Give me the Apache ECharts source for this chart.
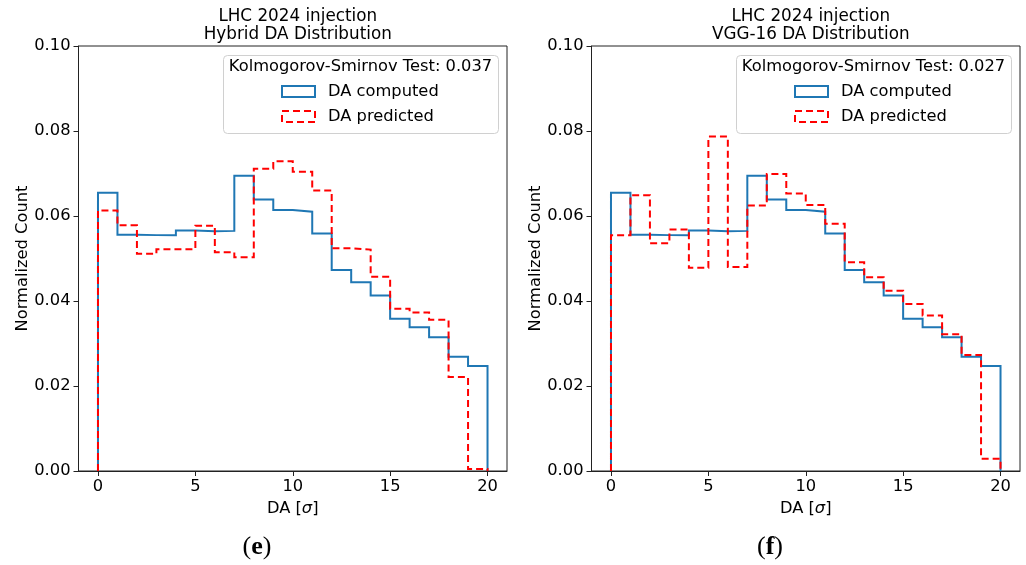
<!DOCTYPE html>
<html>
<head>
<meta charset="utf-8">
<script src="https://cdn.jsdelivr.net/npm/echarts@6/dist/echarts.min.js"></script>
<style>
  html, body { margin: 0; padding: 0; background: #fff; }
  #chart { width: 1026px; height: 565px; }
</style>
</head>
<body>
<div id="chart"></div>
<script>
// Histogram bin edges for DA [sigma]: 20 bins of width 1 from 0 to 20
const binEdges = [0, 1, 2, 3, 4, 5, 6, 7, 8, 9, 10, 11, 12, 13, 14, 15, 16, 17, 18, 19, 20];

// Normalized counts per bin
const daComputed = [0.0655, 0.0556, 0.0555, 0.0555, 0.0566, 0.0564, 0.0565, 0.0695, 0.0639, 0.0614,
                    0.0610, 0.0559, 0.0473, 0.0444, 0.0413, 0.0358, 0.0338, 0.0315, 0.0269, 0.0247];
const hybridPredicted = [0.0613, 0.0578, 0.0511, 0.0522, 0.0522, 0.0577, 0.0515, 0.0503, 0.0711, 0.0729,
                         0.0704, 0.0660, 0.0524, 0.0521, 0.0457, 0.0382, 0.0373, 0.0356, 0.0221, 0.0005];
const vggPredicted = [0.0555, 0.0649, 0.0536, 0.0568, 0.0478, 0.0787, 0.0480, 0.0625, 0.0699, 0.0653,
                      0.0626, 0.0582, 0.0491, 0.0456, 0.0424, 0.0393, 0.0366, 0.0322, 0.0273, 0.0029];

const xTicks = [0, 5, 10, 15, 20];
const yTicks = [0.00, 0.02, 0.04, 0.06, 0.08, 0.10];

const panelTitles = ['LHC 2024 injection\nHybrid DA Distribution', 'LHC 2024 injection\nVGG-16 DA Distribution'];
const ksScores = ['0.037', '0.027'];
const panelTags = ['e', 'f'];
const legendNames = ['DA computed', 'DA predicted'];

const FONT = 'DejaVu Sans';
const FS = 16.3;
const BLUE = '#1f77b4';
const RED = '#ff0000';

// Step outline of a histogram: rises from 0 at the first edge, falls back to 0 at the last
function stepData(values) {
  const pts = [[binEdges[0], 0]];
  values.forEach((v, i) => pts.push([binEdges[i], v]));
  const last = binEdges[binEdges.length - 1];
  pts.push([last, values[values.length - 1]]);
  pts.push([last, 0]);
  return pts;
}

const grids = [
  { left: 78.5, top: 46, width: 428.5, height: 425 },
  { left: 591.5, top: 46, width: 428.5, height: 425 }
];
// Horizontal centre of each sub-figure (used for the (e)/(f) tags)
const panelCentres = [257, 770];

const axisColor = '#222';

function makeX(i) {
  return {
    type: 'value', gridIndex: i, min: -1, max: 21,
    name: '{n|DA [}{s|σ}{n|]}', nameLocation: 'middle', nameGap: 30,
    nameTextStyle: { rich: {
      n: { fontFamily: FONT, fontSize: FS, color: '#000' },
      s: { fontFamily: FONT, fontSize: FS, color: '#000', fontStyle: 'italic' }
    } },
    axisLine: { show: true, onZero: false, lineStyle: { color: axisColor, width: 1 } },
    axisTick: { show: true, inside: false, length: 5, customValues: xTicks, lineStyle: { color: axisColor } },
    axisLabel: { customValues: xTicks, margin: 8, fontFamily: FONT, fontSize: FS, color: '#000' },
    splitLine: { show: false }
  };
}

function makeY(i) {
  return {
    type: 'value', gridIndex: i, min: yTicks[0], max: yTicks[yTicks.length - 1], interval: 0.02,
    name: 'Normalized Count', nameLocation: 'middle', nameGap: 48,
    nameTextStyle: { fontFamily: FONT, fontSize: FS, color: '#000' },
    axisLine: { show: true, onZero: false, lineStyle: { color: axisColor, width: 1 } },
    axisTick: { show: true, inside: false, length: 5, lineStyle: { color: axisColor } },
    axisLabel: { margin: 8, fontFamily: FONT, fontSize: FS, color: '#000',
      formatter: v => v.toFixed(2) },
    splitLine: { show: false }
  };
}

function stepSeries(values, i, color, dashed, name) {
  return {
    type: 'line', name: name, xAxisIndex: i, yAxisIndex: i,
    data: stepData(values), step: 'end', symbol: 'none', silent: true,
    lineStyle: { color: color, width: 2, type: dashed ? [7, 4] : 'solid', cap: 'butt', join: 'miter' },
    animation: false
  };
}

// Legend box with title and two outline patches
function legendGraphics(i) {
  const g = grids[i];
  const boxLeft = g.left + 144.5;
  const boxTop = 55;
  const boxW = 275, boxH = 78;
  const cx = boxLeft + boxW / 2;
  const font = FS + 'px "' + FONT + '"';
  return [
    { type: 'rect', left: boxLeft, top: boxTop, z: 10,
      shape: { width: boxW, height: boxH, r: 4 },
      style: { fill: 'rgba(255,255,255,0.8)', stroke: '#d0d0d0', lineWidth: 1 } },
    { type: 'text', x: cx, y: boxTop + 12, z: 11,
      style: { text: 'Kolmogorov-Smirnov Test: ' + ksScores[i], fill: '#000',
        font: font, align: 'center', verticalAlign: 'middle' } },
    { type: 'rect', x: boxLeft + 59, y: boxTop + 31, z: 11,
      shape: { width: 33, height: 11 },
      style: { fill: 'none', stroke: BLUE, lineWidth: 2 } },
    { type: 'text', x: boxLeft + 105, y: boxTop + 37, z: 11,
      style: { text: legendNames[0], fill: '#000',
        font: font, align: 'left', verticalAlign: 'middle' } },
    { type: 'rect', x: boxLeft + 59, y: boxTop + 56, z: 11,
      shape: { width: 33, height: 11 },
      style: { fill: 'none', stroke: RED, lineWidth: 2, lineDash: [7, 4] } },
    { type: 'text', x: boxLeft + 105, y: boxTop + 62, z: 11,
      style: { text: legendNames[1], fill: '#000',
        font: font, align: 'left', verticalAlign: 'middle' } }
  ];
}

function tagGraphic(i) {
  return {
    type: 'text', x: panelCentres[i], y: 547, z: 11,
    style: {
      text: '{p|(}{b|' + panelTags[i] + '}{p|)}',
      align: 'center', verticalAlign: 'middle',
      rich: {
        p: { fontFamily: 'Liberation Serif', fontSize: 26, color: '#000' },
        b: { fontFamily: 'Liberation Serif', fontSize: 26, fontWeight: 'bold', color: '#000' }
      }
    }
  };
}

const chart = echarts.init(document.getElementById('chart'), null, { renderer: 'canvas' });

chart.setOption({
  backgroundColor: '#fff',
  animation: false,
  title: grids.map((g, i) => ({
    text: panelTitles[i],
    left: g.left + g.width / 2, top: 2, textAlign: 'center',
    textStyle: { fontFamily: FONT, fontSize: 16.8, fontWeight: 'normal', color: '#000', lineHeight: 18.5 }
  })),
  grid: grids.map(g => Object.assign({ show: true, borderColor: axisColor, borderWidth: 1, backgroundColor: 'transparent' }, g)),
  xAxis: [makeX(0), makeX(1)],
  yAxis: [makeY(0), makeY(1)],
  series: [
    stepSeries(daComputed, 0, BLUE, false, legendNames[0]),
    stepSeries(hybridPredicted, 0, RED, true, legendNames[1]),
    stepSeries(daComputed, 1, BLUE, false, legendNames[0]),
    stepSeries(vggPredicted, 1, RED, true, legendNames[1])
  ],
  graphic: [].concat(legendGraphics(0), legendGraphics(1), [tagGraphic(0), tagGraphic(1)])
});
</script>
</body>
</html>
